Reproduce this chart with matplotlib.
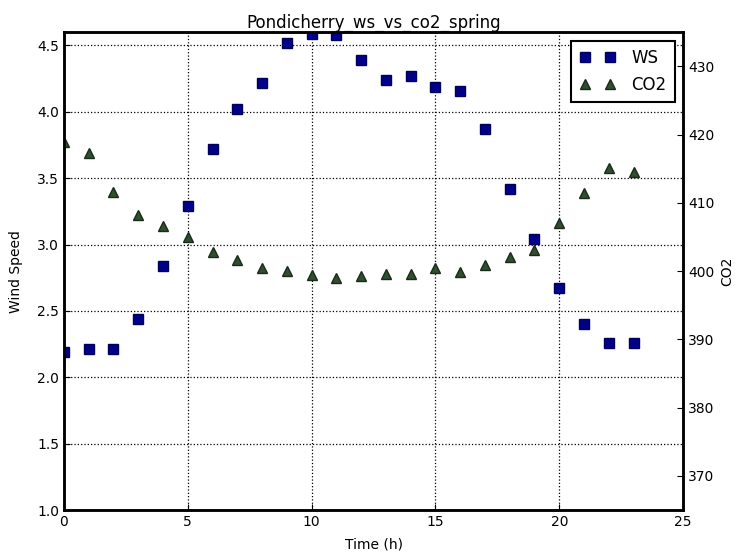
import numpy as np
import matplotlib.pyplot as plt

hours = list(range(24))

ws = [2.19, 2.21, 2.21, 2.44, 2.84, 3.29, 3.72, 4.02, 4.22, 4.52, 4.59, 4.58,
      4.39, 4.24, 4.27, 4.19, 4.16, 3.87, 3.42, 3.04, 2.67, 2.40, 2.26, 2.26]

co2 = [418.9, 417.3, 411.6, 408.2, 406.6, 405.0, 402.8, 401.7, 400.4, 400.0, 399.4, 399.0,
       399.3, 399.6, 399.6, 400.4, 399.8, 400.9, 402.0, 403.1, 407.0, 411.4, 415.1, 414.5]

fig = plt.figure(figsize=(7.49, 5.55), dpi=100)
ax = fig.add_axes([0.0854, 0.081, 0.8266, 0.861])

l1, = ax.plot(hours, ws, 's', color='#00008b', markeredgecolor='#00005a',
              markersize=6.5, label='WS')
ax.set_xlim(0, 25)
ax.set_ylim(1.0, 4.6)
ax.set_xlabel('Time (h)', fontsize=10, labelpad=6)
ax.set_ylabel('Wind Speed', fontsize=10, labelpad=10)
ax.set_title('Pondicherry_ws_vs_co2_spring', fontsize=12, pad=2)
ax.grid(True, color='k', linestyle=':', linewidth=0.9)

ax2 = ax.twinx()
l2, = ax2.plot(hours, co2, '^', color='#2f4f2f', markeredgecolor='#1a2a1a',
               markersize=6.5, label='CO2')
ax2.set_ylim(365, 435)
ax2.set_ylabel('CO2', fontsize=10)

for a in (ax, ax2):
    for s in a.spines.values():
        s.set_linewidth(1.8)
    a.tick_params(labelsize=10, direction='in', length=4)

leg = ax2.legend([l1, l2], ['WS', 'CO2'], loc='upper right', numpoints=2,
                 fontsize=12, fancybox=False, framealpha=1,
                 borderaxespad=0.5, borderpad=0.5, labelspacing=0.55,
                 handlelength=2.1, handletextpad=1.0)
leg.get_frame().set_edgecolor('k')
leg.get_frame().set_linewidth(1.5)

fig.savefig('out.png', dpi=100)
